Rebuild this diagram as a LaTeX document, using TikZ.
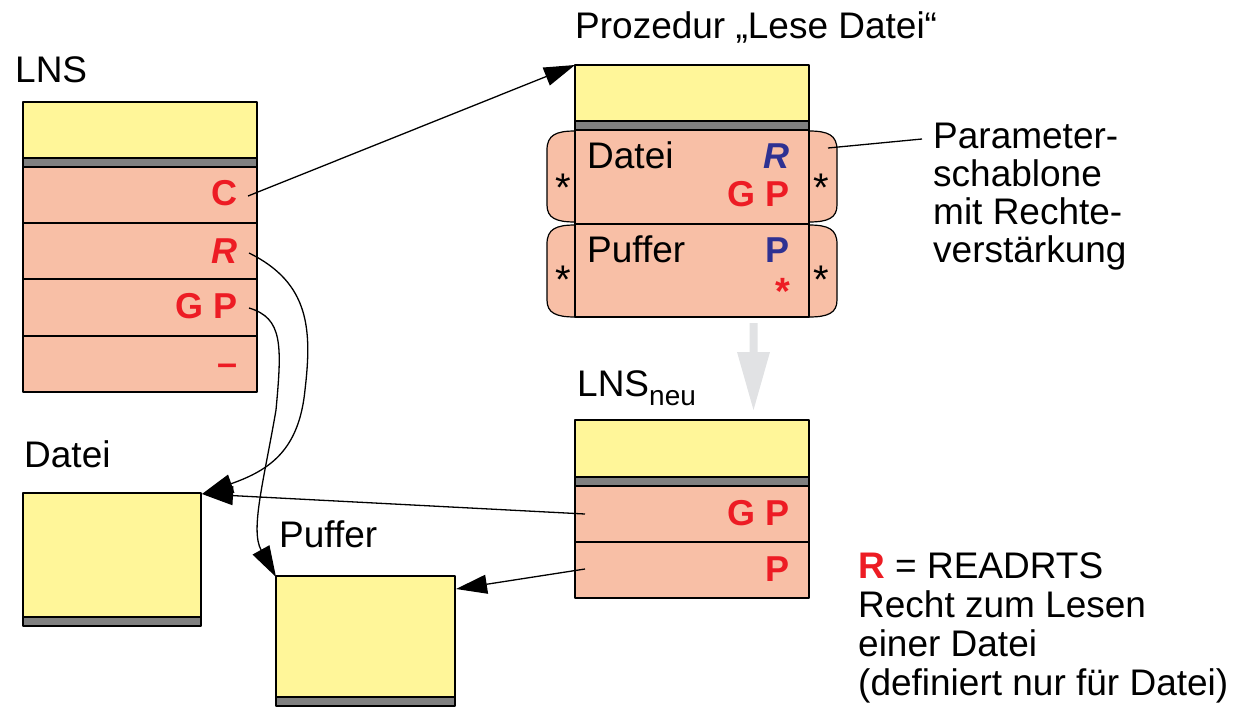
\documentclass[tikz,border=0pt]{standalone}
\usepackage{fontspec}
\setmainfont{Liberation Sans}
\usetikzlibrary{arrows.meta}
\definecolor{yel}{RGB}{255,246,153}
\definecolor{sal}{RGB}{248,191,166}
\definecolor{band}{RGB}{128,128,128}
\definecolor{rred}{RGB}{237,28,36}
\definecolor{bblue}{RGB}{46,49,146}
\definecolor{pale}{RGB}{225,226,228}
\begin{document}
\begin{tikzpicture}[x=1pt,y=-1pt,line join=round,
  cell/.style={draw=black,line width=1.3pt,inner sep=0pt,outer sep=0pt,anchor=north west,minimum width=#1},
  ybox/.style={cell=#1,fill=yel},
  gband/.style={cell=#1,fill=band,minimum height=9pt},
  srow/.style={cell=#1,fill=sal},
  tab/.style={draw=black,line width=1.2pt,fill=sal},
  lbl/.style={inner sep=0pt,font=\fontsize{37}{38.5}\selectfont},
  bl/.style={inner sep=0pt,font=\fontsize{36}{38}\selectfont\bfseries},
  ast/.style={inner sep=0pt,font=\fontsize{40}{40}\selectfont},
  con/.style={line width=1.3pt,-{Triangle[length=31pt,width=19pt]}},
  plain/.style={line width=1.3pt}
]
\useasboundingbox (0,0) rectangle (1240,707);

% ---------- LNS ----------
\node[lbl,anchor=base west] (tLNS) at (15,82) {LNS};
\node[ybox=234pt,minimum height=56pt] (lY) at (23,102) {};
\node[gband=234pt] (lG) at (23,158) {};
\node[srow=234pt,minimum height=56pt] (lC) at (23,167) {};
\node[srow=234pt,minimum height=56pt] (lR) at (23,223) {};
\node[srow=234pt,minimum height=57pt] (lGP) at (23,279) {};
\node[srow=234pt,minimum height=56pt] (lM) at (23,336) {};
\node[bl,anchor=base east,text=rred] (xC) at (238,205) {C};
\node[bl,anchor=base east,text=rred] (xR) at (238,263) {\itshape R};
\node[bl,anchor=base east,text=rred] (xGP) at (238,318) {G P};
\node[bl,anchor=base east,text=rred] (xM) at (238,375) {–};
\coordinate (sC) at (248,196);
\coordinate (sR) at (249,253);
\coordinate (sGP) at (249,308);

% ---------- Procedure ----------
\node[lbl,anchor=base west] (tProc) at (575,38) {Prozedur „Lese Datei“};
% tabs
\draw[tab] (575,131) .. controls (556,131) and (547,135) .. (547,150) -- (547,205) .. controls (547,218) and (556,222) .. (575,222) -- cycle;
\draw[tab] (575,225) .. controls (556,225) and (547,229) .. (547,244) -- (547,300) .. controls (547,313) and (556,317) .. (575,317) -- cycle;
\draw[tab] (809,131) .. controls (828,131) and (837,135) .. (837,150) -- (837,205) .. controls (837,218) and (828,222) .. (809,222) -- cycle;
\draw[tab] (809,225) .. controls (828,225) and (837,229) .. (837,244) -- (837,300) .. controls (837,313) and (828,317) .. (809,317) -- cycle;
\node[ybox=234pt,minimum height=56pt] (pY) at (575,65) {};
\node[gband=234pt] (pG) at (575,121) {};
\node[srow=234pt,minimum height=94pt] (pD) at (575,130) {};
\node[srow=234pt,minimum height=93pt] (pP) at (575,224) {};
\node[lbl,anchor=base west] (tPD) at (587,168) {Datei};
\node[bl,anchor=base east,text=bblue] at (790,168) {\itshape R};
\node[bl,anchor=base east,text=rred] at (790,206) {G P};
\node[lbl,anchor=base west] (tPP) at (587,262) {Puffer};
\node[bl,anchor=base east,text=bblue] at (790,262) {P};
\node[ast,anchor=base,text=rred,font=\fontsize{38}{38}\selectfont\bfseries] at (783,304) {*};
\node[ast,anchor=base] at (563,201) {*};
\node[ast,anchor=base] at (563,293) {*};
\node[ast,anchor=base] at (821,201) {*};
\node[ast,anchor=base] at (821,293) {*};
\coordinate (tProcBox) at (575,65);

% Parameter label
\node[lbl,anchor=base west] (par1) at (933,148) {Parameter-};
\node[lbl,anchor=base west] (par2) at (933,186) {schablone};
\node[lbl,anchor=base west] (par3) at (933,224) {mit Rechte-};
\node[lbl,anchor=base west] (par4) at (933,262) {verstärkung};
\coordinate (parS) at (828,148);
\coordinate (parE) at (922,139);
\draw[plain] (parS) -- (parE);

% gray arrow
\fill[pale] (749.5,323) -- (757.5,323) -- (757.5,352) -- (770,352) -- (753.5,410) -- (737,352) -- (749.5,352) -- cycle;

% ---------- LNS neu ----------
\node[lbl,anchor=base west] (tNeu) at (577,396) {LNS\raisebox{-9pt}{\fontsize{28}{28}\selectfont neu}};
\node[ybox=234pt,minimum height=57pt] (nY) at (575,420) {};
\node[gband=234pt] (nG) at (575,477) {};
\node[srow=234pt,minimum height=56pt] (nGP) at (575,486) {};
\node[srow=234pt,minimum height=56pt] (nP) at (575,542) {};
\node[bl,anchor=base east,text=rred] at (790,525) {G P};
\node[bl,anchor=base east,text=rred] at (790,581) {P};
\coordinate (sNGP) at (585,514);
\coordinate (sNP) at (585,569);

% ---------- Datei / Puffer ----------
\node[lbl,anchor=base west] (tDatei) at (24,467) {Datei};
\node[ybox=178pt,minimum height=124pt] (dY) at (23,493) {};
\node[gband=178pt] (dG) at (23,617) {};
\node[lbl,anchor=base west] (tPuffer) at (279,547) {Puffer};
\node[ybox=179pt,minimum height=121pt] (fY) at (276,576) {};
\node[gband=179pt] (fG) at (276,697) {};
\coordinate (tD) at (202,494);
\coordinate (tF) at (276,577);
\coordinate (tF2) at (456,589);

% legend
\node[lbl,anchor=base west] (lg1) at (858,578) {\textcolor{rred}{\bfseries R} = READRTS};
\node[lbl,anchor=base west] (lg2) at (858,617) {Recht zum Lesen};
\node[lbl,anchor=base west] (lg3) at (858,656) {einer Datei};
\node[lbl,anchor=base west] (lg4) at (858,695) {(definiert nur für Datei)};

% ---------- connectors ----------
\draw[con] (sC) -- (tProcBox);
\draw[con] (sR) .. controls (310,283) and (312,330) .. (305,390) .. controls (299,450) and (270,470) .. (tD);
\draw[con] (sGP) .. controls (283,318) and (282,345) .. (276,410) .. controls (264,480) and (250,530) .. (tF);
\draw[con] (sNGP) -- (tD);
\draw[con] (sNP) -- (tF2);
\end{tikzpicture}
\end{document}
